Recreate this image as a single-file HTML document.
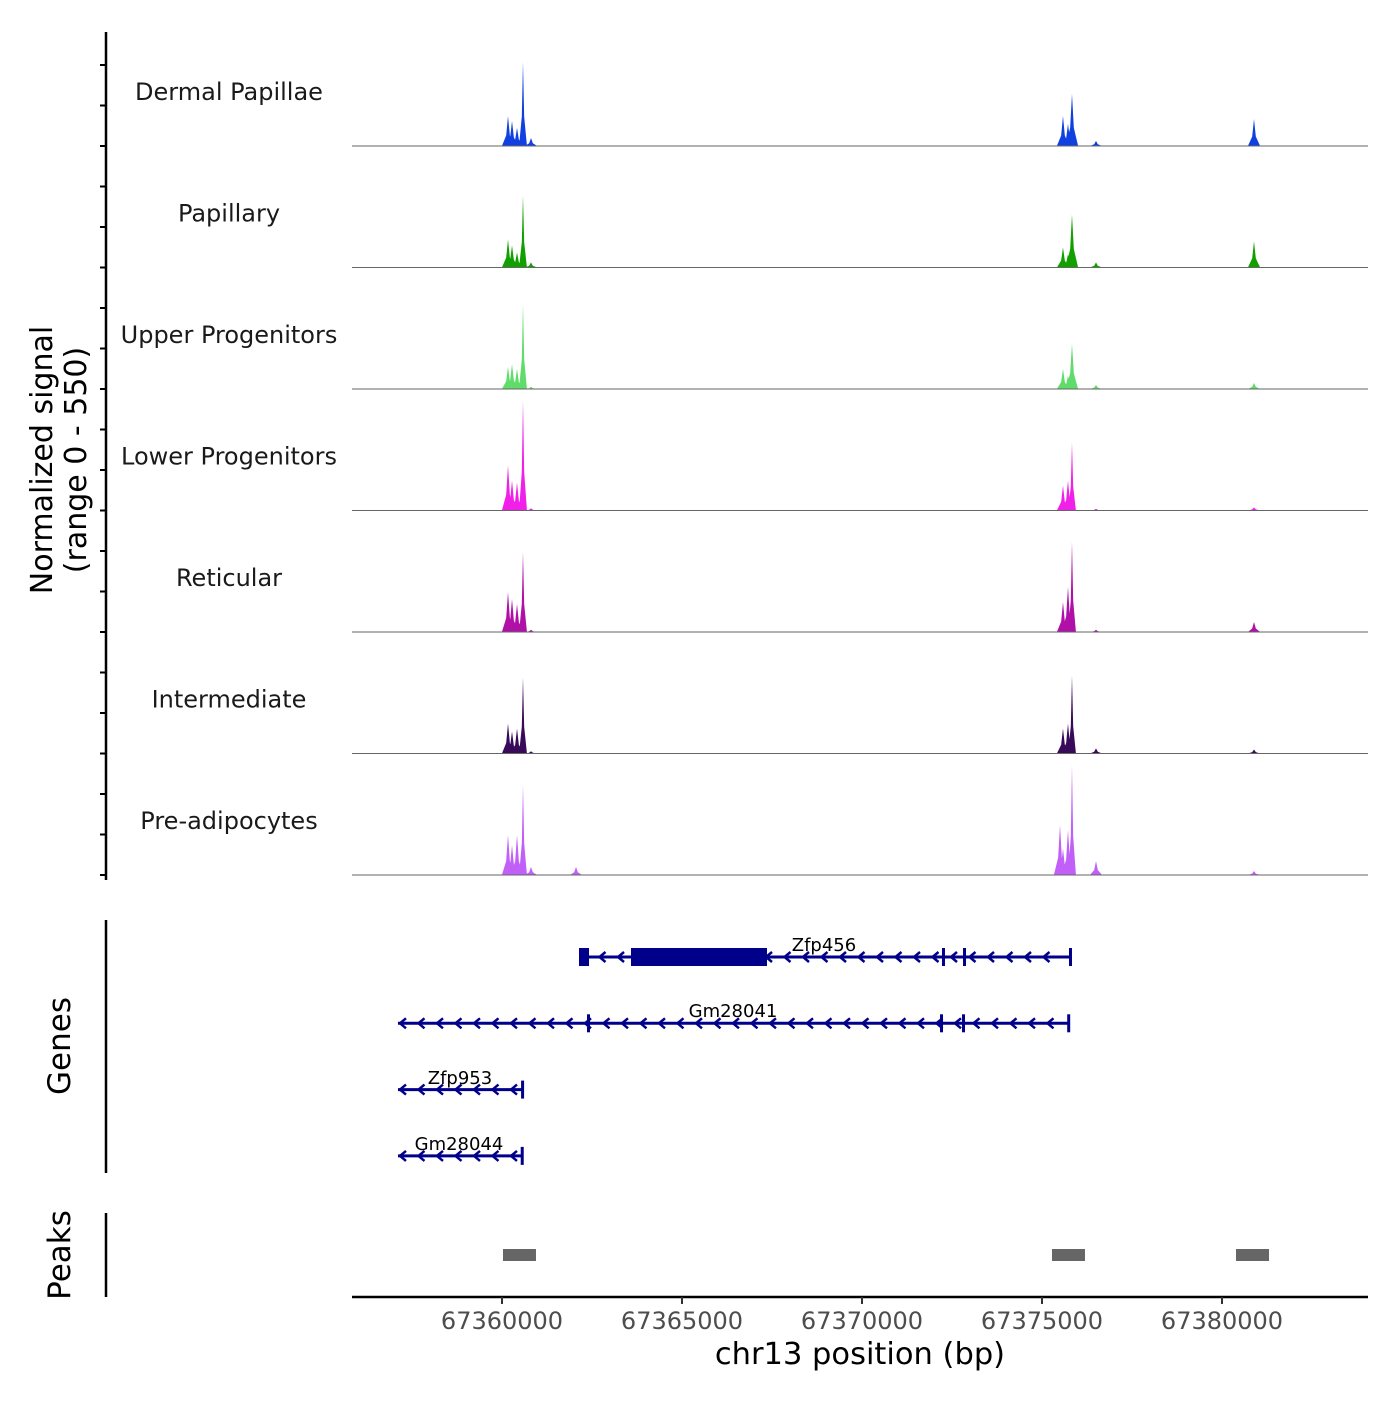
<!DOCTYPE html>
<html><head><meta charset="utf-8"><style>
body{margin:0;background:#fff;font-family:"DejaVu Sans","Liberation Sans",sans-serif}
svg text{font-family:"DejaVu Sans","Liberation Sans",sans-serif}
</style></head><body>
<svg id="chart" width="1400" height="1400" xmlns="http://www.w3.org/2000/svg"></svg>
<script>
const trackNames=["Dermal Papillae","Papillary","Upper Progenitors","Lower Progenitors","Reticular","Intermediate","Pre-adipocytes"];
const trackColors=["#1040e0","#11a000","#5fdc6a","#f020e8","#b010a8","#3a0a5a","#c060f8"];
const peakPos=[67360167,67360278,67360417,67360583,67360806,67362056,67375500,67375583,67375722,67375833,67376500,67380889];
const trackVals=[
 [136,113,82,380,36,0,0,136,100,236,23,122],
 [127,100,68,326,23,0,0,91,60,240,23,118],
 [100,113,91,385,10,0,0,91,60,204,18,27],
 [204,136,127,498,10,0,0,113,136,308,8,14],
 [181,150,127,362,10,0,0,136,204,408,10,45],
 [136,100,113,344,10,0,0,113,136,353,23,18],
 [181,136,181,408,36,36,226,120,204,498,63,18]
];
const tickVals=[67360000,67365000,67370000,67375000,67380000];
const genes=[
 {name:"Zfp456",start:67362139,end:67375778,exons:[[67362139,67362417],[67363583,67367361],[67372222,67372250],[67372806,67372834],[67375750,67375778]],label:[824,945]},
 {name:"Gm28041",start:67357111,end:67375722,exons:[[67362361,67362400],[67372167,67372195],[67372778,67372806],[67375700,67375722]],label:[733,1011]},
 {name:"Zfp953",start:67357111,end:67360556,exons:[[67360530,67360556]],label:[460,1078]},
 {name:"Gm28044",start:67357111,end:67360528,exons:[[67360520,67360528]],label:[459,1144]}
];
const peakRegions=[[67360028,67360944],[67375278,67376194],[67380389,67381306]];

const svg=document.getElementById('chart');const NS="http://www.w3.org/2000/svg";
function mk(t,a,p){const e=document.createElementNS(NS,t);for(const k in a)e.setAttribute(k,a[k]);(p||svg).appendChild(e);return e;}
const X0=67360000,PX=0.036;
const x=v=>502+(v-X0)*PX;
const TH=121.5,base0=146;
const y=(v,i)=>base0+i*TH-v/550*TH;

const ax=mk('line',{x1:106,y1:32,x2:106,y2:880,stroke:'#000','stroke-width':2.5});

for(let t=875;t>=34;t-=40.5){const l=mk('line',{x1:100,y1:t,x2:106,y2:t,stroke:'#000','stroke-width':2});}
const yt=mk('text',{transform:'translate(52,460) rotate(-90)','text-anchor':'middle','font-size':30});

yt.innerHTML='<tspan x="0" dy="0">Normalized signal</tspan><tspan x="0" dy="34">(range 0 - 550)</tspan>';

trackNames.forEach((n,i)=>{
  const b=base0+i*TH;
  const g=mk('g',{});
  const lb=mk('text',{x:229,y:b-46,'text-anchor':'middle','font-size':24,fill:'#1a1a1a'},g);lb.textContent=n;
  
  let pts=[];
  const order=peakPos.map((p,k)=>[p,trackVals[i][k]]).sort((a,c)=>a[0]-c[0]);
  let d=`M352,${b}`;
  order.forEach(([p,v])=>{if(v<=0)return;const w=v>250?110:170;d+=` L${x(p-w)},${b} L${x(p-w*0.3)},${y(v*0.35,i)} L${x(p)},${y(v,i)} L${x(p+w*0.3)},${y(v*0.35,i)} L${x(p+w)},${b}`;});
  d+=` L1368,${b} Z`;
  const a=mk('path',{d:d,fill:trackColors[i]},g);
  const bl=mk('line',{x1:352,y1:b,x2:1368,y2:b,stroke:'#666','stroke-width':1},g);
});

const ga=mk('line',{x1:106,y1:920,x2:106,y2:1173,stroke:'#000','stroke-width':2.5});
const gt=mk('text',{transform:'translate(70,1046) rotate(-90)','text-anchor':'middle','font-size':31});gt.textContent='Genes';
genes.forEach((gn,i)=>{
  const gy=957+i*66.3;
  const g=mk('g',{});
  mk('line',{x1:x(gn.start),y1:gy,x2:x(gn.end),y2:gy,stroke:'#00008b','stroke-width':3},g);
  for(let ax2=x(gn.start)+2;ax2<x(gn.end)-10;ax2+=18.5){mk('path',{d:`M${ax2+6},${gy-5} L${ax2},${gy} L${ax2+6},${gy+5}`,fill:'none',stroke:'#00008b','stroke-width':2.5},g);}
  gn.exons.forEach(e=>{const w=Math.max(x(e[1])-x(e[0]),3);mk('rect',{x:x(e[0]),y:gy-9,width:w,height:18,fill:'#00008b'},g);});
  const t=mk('text',{x:gn.label[0],y:gn.label[1]+6,'text-anchor':'middle','font-size':18,fill:'#000'},g);t.textContent=gn.name;
});

const pa=mk('line',{x1:106,y1:1213,x2:106,y2:1297,stroke:'#000','stroke-width':2.5});
const pt=mk('text',{transform:'translate(70,1255) rotate(-90)','text-anchor':'middle','font-size':31});pt.textContent='Peaks';
peakRegions.forEach(r=>{const e=mk('rect',{x:x(r[0]),y:1249,width:x(r[1])-x(r[0]),height:12,fill:'#666'});});

const xa=mk('line',{x1:352,y1:1297,x2:1368,y2:1297,stroke:'#000','stroke-width':2.5});
tickVals.forEach(v=>{const l=mk('line',{x1:x(v),y1:1297,x2:x(v),y2:1304,stroke:'#333','stroke-width':2});
 const t=mk('text',{x:x(v),y:1329,'text-anchor':'middle','font-size':24,fill:'#4d4d4d'});t.textContent=v;});
const xt=mk('text',{x:860,y:1364,'text-anchor':'middle','font-size':30.5});xt.textContent='chr13 position (bp)';
</script>
</body></html>
